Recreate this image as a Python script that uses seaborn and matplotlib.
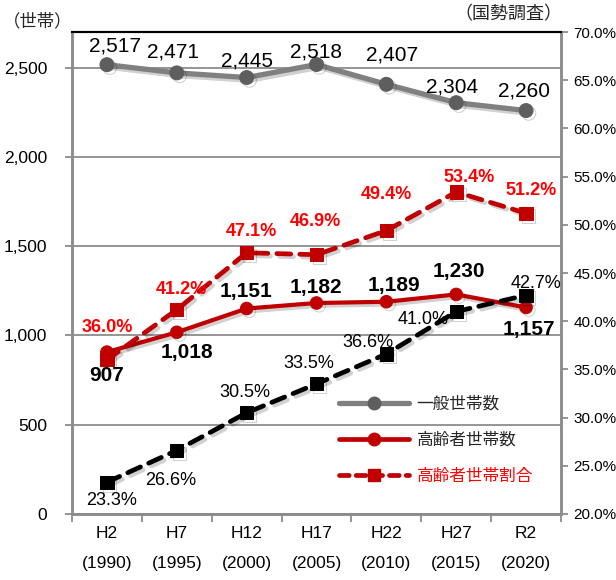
import matplotlib
matplotlib.use("Agg")
import matplotlib.pyplot as plt
import matplotlib.patheffects as pe
from matplotlib.lines import Line2D
from matplotlib.ticker import FuncFormatter, MultipleLocator, FixedLocator
import seaborn as sns

# 国勢調査による世帯数の推移
periods = ["H2\n(1990)", "H7\n(1995)", "H12\n(2000)", "H17\n(2005)",
           "H22\n(2010)", "H27\n(2015)", "R2\n(2020)"]
general_households = [2517, 2471, 2445, 2518, 2407, 2304, 2260]
elderly_households = [907, 1018, 1151, 1182, 1189, 1230, 1157]
elderly_share = [36.0, 41.2, 47.1, 46.9, 49.4, 53.4, 51.2]
national_share = [23.3, 26.6, 30.5, 33.5, 36.6, 41.0, 42.7]

legend_labels = ["一般世帯数", "高齢者世帯数", "高齢者世帯割合"]

# label offsets in pixels (dx, dy) from each point
general_offsets = [(8, 19), (-4, 21), (0, 17), (-1, 13), (6, 29), (-4, 16), (-2, 20)]
elderly_offsets = [(0, -23), (10, -20), (-1, 17), (-1, 15), (8, 16), (3, 23), (3, -22)]
share_offsets = [(0, 32), (5, 20), (5, 21), (-1, 33), (0, 36), (13, 15), (5, 23)]
national_offsets = [(5, -18), (-6, -30), (-2, 20), (-8, 20), (-18, 11), (-33, -8), (10, 12)]

sns.set_style("white")
plt.rcParams["font.family"] = ["Liberation Sans", "Noto Sans CJK JP"]
plt.rcParams["lines.scale_dashes"] = False

GRAY_LINE = "#808080"
GRAY_MARK = "#5E5E5E"
DARK_RED = "#C00000"
BRIGHT_RED = "#FF0000"
AXIS_GRAY = "#8C8C8C"

fig = plt.figure(figsize=(6.16, 5.8), dpi=100)
ax = fig.add_axes([0.1169, 0.1138, 0.7938, 0.831])
ax2 = ax.twinx()

x = list(range(len(periods)))
shadow = [pe.SimpleLineShadow(offset=(2, -2), shadow_color="#000000", alpha=0.18), pe.Normal()]

sns.lineplot(x=x, y=general_households, ax=ax, color=GRAY_LINE, linewidth=3.8,
             marker="o", markersize=10, markerfacecolor=GRAY_MARK,
             markeredgecolor=GRAY_MARK, zorder=3)
sns.lineplot(x=x, y=elderly_households, ax=ax, color=DARK_RED, linewidth=3.0,
             marker="o", markersize=9, markerfacecolor=DARK_RED,
             markeredgecolor=DARK_RED, zorder=3)
sns.lineplot(x=x, y=elderly_share, ax=ax2, color=DARK_RED, linewidth=3.4,
             marker="s", markersize=9.5, markerfacecolor=DARK_RED,
             markeredgecolor=DARK_RED, zorder=3)
sns.lineplot(x=x, y=national_share, ax=ax2, color="black", linewidth=3.4,
             marker="s", markersize=9.5, markerfacecolor="black",
             markeredgecolor="black", zorder=3)

for line in ax.lines + ax2.lines:
    line.set_path_effects(shadow)
for line in ax2.lines:
    line.set_dashes((10, 6.5))
    line.set_dash_capstyle("round")

ax.set_xlim(-0.5, len(periods) - 0.5)
ax.set_ylim(0, 2700)
ax2.set_ylim(20, 70)

# axes, ticks, grid
ax.yaxis.set_major_locator(MultipleLocator(500))
ax.yaxis.set_major_formatter(FuncFormatter(lambda v, p: f"{int(v):,}"))
ax2.yaxis.set_major_locator(MultipleLocator(5))
ax2.yaxis.set_major_formatter(FuncFormatter(lambda v, p: f"{v:.1f}%"))
ax.set_xticks(x)
ax.set_xticklabels(periods, linespacing=2.25)
ax.xaxis.set_minor_locator(FixedLocator([i - 0.5 for i in range(len(periods) + 1)]))

ax.grid(axis="y", color=AXIS_GRAY, linewidth=1.3)
ax.grid(axis="x", visible=False)
ax.set_axisbelow(True)

ax.tick_params(axis="y", which="major", left=True, length=5, width=1.3,
               color=AXIS_GRAY, labelsize=12.5, pad=13, labelcolor="black")
ax.tick_params(axis="x", which="major", bottom=False, labelsize=12.5, pad=5,
               labelcolor="black")
ax.tick_params(axis="x", which="minor", bottom=True, length=6, width=1.3,
               color=AXIS_GRAY)
ax2.tick_params(axis="y", right=True, length=5, width=1.3, color=AXIS_GRAY,
                labelsize=11, pad=4, labelcolor="black")

for a in (ax, ax2):
    for side in ("left", "right", "bottom"):
        a.spines[side].set_color(AXIS_GRAY)
        a.spines[side].set_linewidth(1.8)
    a.spines["top"].set_color("black")
    a.spines["top"].set_linewidth(1.5)
    a.set_xlabel("")
    a.set_ylabel("")

# value labels
def put_labels(axis, values, offsets, fmt, **style):
    for xi, v, (dx, dy) in zip(x, values, offsets):
        axis.annotate(fmt(v), xy=(xi, v), xytext=(dx, dy), textcoords="offset pixels",
                      ha="center", va="center", zorder=5, **style)

put_labels(ax, general_households, general_offsets, lambda v: f"{v:,}",
           fontsize=15, color="black")
put_labels(ax, elderly_households, elderly_offsets, lambda v: f"{v:,}",
           fontsize=15, color="black", fontweight="bold")
put_labels(ax2, elderly_share, share_offsets, lambda v: f"{v:.1f}%",
           fontsize=13, color=BRIGHT_RED, fontweight="bold")
put_labels(ax2, national_share, national_offsets, lambda v: f"{v:.1f}%",
           fontsize=13, color="black")

# legend
handles = [
    Line2D([], [], color=GRAY_LINE, linewidth=3.8, marker="o", markersize=9,
           markerfacecolor=GRAY_MARK, markeredgecolor=GRAY_MARK, solid_capstyle="round"),
    Line2D([], [], color=DARK_RED, linewidth=3.4, marker="o", markersize=9,
           markerfacecolor=DARK_RED, markeredgecolor=DARK_RED, solid_capstyle="round"),
    Line2D([], [], color=DARK_RED, linewidth=3.4, marker="s", markersize=9,
           markerfacecolor=DARK_RED, markeredgecolor=DARK_RED,
           dashes=(7, 5), dash_capstyle="round"),
]
leg = ax2.legend(handles, legend_labels, loc="center left",
                 bbox_to_anchor=(339 / 616, 1 - 440 / 580),
                 bbox_transform=fig.transFigure, frameon=False,
                 prop={"family": ["Noto Sans CJK JP"], "size": 12},
                 handlelength=4.2, handletextpad=0.45, labelspacing=1.15,
                 borderpad=0, borderaxespad=0, numpoints=1)
leg.get_texts()[2].set_color(BRIGHT_RED)

# unit and source notes
fig.text(72 / 616, 1 - 21 / 580, "（世帯）", ha="right", va="center", fontsize=12.5,
         family=["Noto Sans CJK JP"])
fig.text(562 / 616, 1 - 14 / 580, "（国勢調査）", ha="right", va="center", fontsize=13,
         family=["Noto Sans CJK JP"])

fig.savefig("out.png", dpi=100)
